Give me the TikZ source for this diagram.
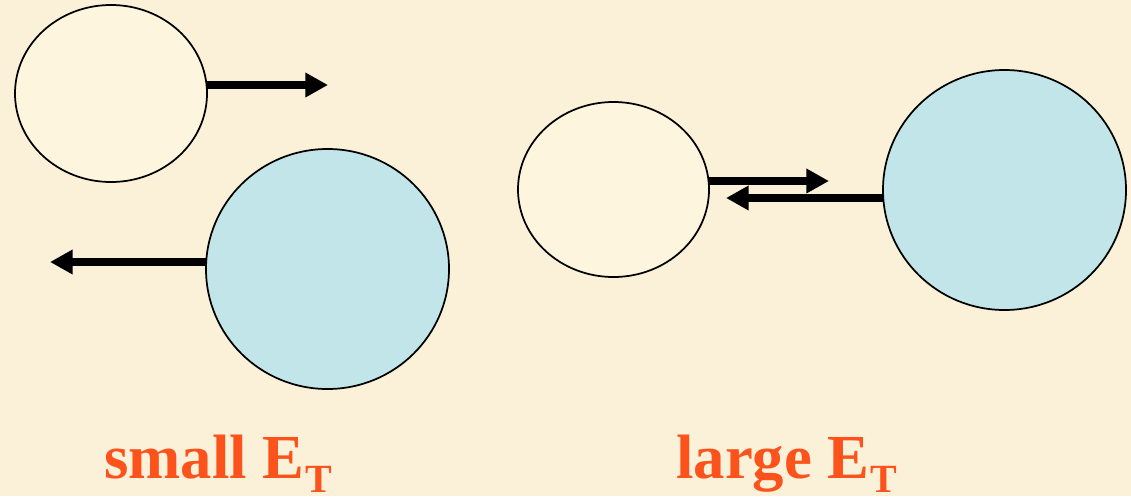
\documentclass[tikz,border=0pt]{standalone}
\usepackage{fontspec}
\setmainfont{Liberation Serif}
\usetikzlibrary{arrows.meta,shapes.geometric}
\definecolor{bgcol}{RGB}{251,240,216}
\definecolor{creamfill}{RGB}{254,245,222}
\definecolor{bluefill}{RGB}{194,229,233}
\definecolor{txtcol}{RGB}{252,82,28}
\tikzset{
  blob/.style={ellipse, draw=black, line width=1.3pt, inner sep=0pt},
  creamblob/.style={blob, fill=creamfill},
  blueblob/.style={blob, fill=bluefill},
  arr/.style={line width=5.8pt, draw=black, line cap=butt, -{Triangle[length=17pt,width=17.5pt]}},
  lbl/.style={text=txtcol, font=\fontsize{47}{56}\selectfont\bfseries, inner sep=0pt, anchor=base west}
}
\newcommand{\subT}{\hspace{1pt}\raisebox{-11pt}{\fontsize{30}{34}\selectfont T}}
\begin{document}
\begin{tikzpicture}[x=0.75pt,y=-0.75pt]
\useasboundingbox (0,0) rectangle (1131,496);
\fill[bgcol] (0,0) rectangle (1131,496);
% left group
\node[creamblob, minimum width=192*0.75pt, minimum height=177*0.75pt] (e1) at (111,93.5) {};
\node[blueblob, minimum width=243*0.75pt, minimum height=240*0.75pt] (c1) at (327.5,269) {};
\coordinate (a1s) at (206.3,85);
\coordinate (a1e) at (328,85);
\coordinate (a2s) at (206.5,262);
\coordinate (a2e) at (50,262);
\draw[arr] (a1s) -- (a1e);
\draw[arr] (a2s) -- (a2e);
% right group
\node[creamblob, minimum width=191*0.75pt, minimum height=175*0.75pt] (e2) at (613.5,189.5) {};
\node[blueblob, minimum width=243*0.75pt, minimum height=240*0.75pt] (c2) at (1004.5,190) {};
\coordinate (b1s) at (708.5,181);
\coordinate (b1e) at (829,181);
\coordinate (b2s) at (883.4,198);
\coordinate (b2e) at (726,198);
\draw[arr] (b1s) -- (b1e);
\draw[arr] (b2s) -- (b2e);
% labels
\node[lbl] (l1) at (104,478) {small E\subT};
\node[lbl] (l2) at (676,478) {large E\subT};
\end{tikzpicture}
\end{document}
